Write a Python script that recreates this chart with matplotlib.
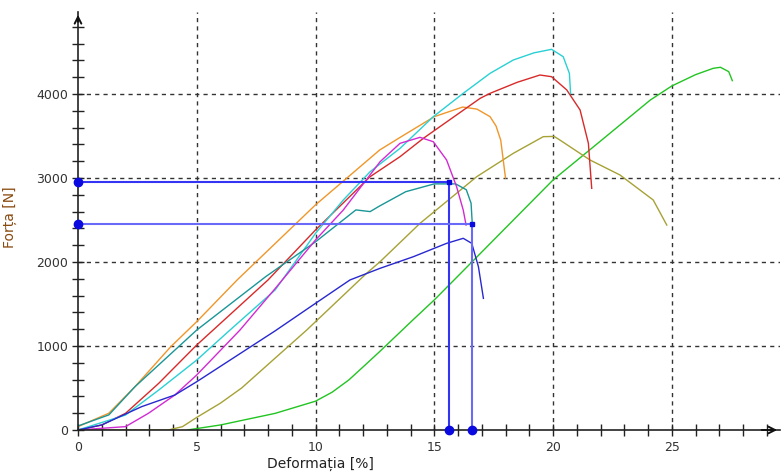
import matplotlib
matplotlib.use("Agg")
import matplotlib.pyplot as plt
from matplotlib.ticker import FixedLocator

# ---- data (strain %, force N) ----
orange_x = [0, 1.3, 2.4, 3.9, 5, 6.7, 10, 12.7, 13.6, 15, 16.2, 16.8, 17.35, 17.6, 17.8, 18.0]
orange_y = [40, 200, 516, 990, 1290, 1786, 2680, 3333, 3490, 3730, 3845, 3820, 3730, 3620, 3450, 3000]

teal_x = [0, 1.3, 2.4, 5, 7.9, 10, 11.7, 12.3, 12.7, 13.8, 15, 15.9, 16.35, 16.55, 16.6]
teal_y = [48, 180, 516, 1190, 1825, 2240, 2620, 2600, 2667, 2837, 2930, 2930, 2860, 2700, 2460]

red_x = [0, 1, 2, 3.4, 5, 8, 10, 12.3, 13.56, 14.54, 16.93, 17.35, 18.5, 19.45, 19.94, 20.58, 21.14, 21.49, 21.63]
red_y = [0, 60, 198, 556, 1012, 1786, 2381, 3016, 3254, 3472, 3948, 4008, 4140, 4226, 4206, 4048, 3810, 3413, 2877]

cyan_x = [0, 2, 3.4, 5, 6.4, 8.3, 10, 11.17, 12.3, 13.56, 14.96, 16.22, 17.35, 18.33, 19.2, 19.94, 20.43, 20.69, 20.74]
cyan_y = [0, 178, 476, 833, 1190, 1667, 2341, 2738, 3075, 3353, 3730, 4008, 4246, 4405, 4490, 4532, 4444, 4246, 4008]

magenta_x = [0, 2, 2.96, 4.08, 5, 6.82, 8.29, 10, 11.17, 12.72, 13.56, 14.4, 14.96, 15.52, 15.94, 16.22, 16.34]
magenta_y = [0, 40, 198, 417, 655, 1190, 1680, 2262, 2619, 3194, 3413, 3484, 3432, 3214, 2897, 2619, 2440]

blue_x = [0, 1, 2.68, 4.08, 5, 8.3, 10, 11.45, 12.72, 14.12, 15.52, 16.22, 16.58, 16.86, 17.07]
blue_y = [0, 60, 278, 417, 575, 1180, 1508, 1786, 1925, 2063, 2222, 2282, 2222, 1944, 1567]

olive_x = [0, 3.8, 4.4, 5, 6, 6.89, 8.29, 9.63, 12.15, 12.72, 14.4, 16.79, 18.33, 19.59, 20.05,
           20.29, 21.56, 22.82, 24.22, 24.79]
olive_y = [0, 0, 40, 150, 320, 500, 853, 1190, 1865, 2004, 2460, 3016, 3294, 3492, 3495,
           3452, 3214, 3036, 2738, 2440]

green_x = [4.6, 6, 7, 8.3, 10, 10.7, 11.4, 12.0, 12.7, 14.1, 15, 16.6, 18.75, 20, 22, 24.1, 25, 26, 26.75, 27.05, 27.4, 27.55]
green_y = [0, 60, 120, 198, 343, 450, 595, 750, 933, 1310, 1548, 2004, 2619, 2976, 3440, 3929, 4095, 4230, 4306, 4318, 4266, 4159]

marker_x = [15.64, 16.6]
marker_y = [2956, 2452]

x_major = [0, 5, 10, 15, 20, 25]
y_major = [0, 1000, 2000, 3000, 4000]

series = [
    (green_x, green_y, '#22c422'),
    (olive_x, olive_y, '#a6a235'),
    (orange_x, orange_y, '#f0962a'),
    (red_x, red_y, '#d82a2a'),
    (cyan_x, cyan_y, '#2ad0d4'),
    (teal_x, teal_y, '#1a9696'),
    (magenta_x, magenta_y, '#d22ad2'),
    (blue_x, blue_y, '#2828d0'),
]

fig = plt.figure(figsize=(7.84, 4.75), dpi=100)
ax = fig.add_axes([78/784, 45/475, 702/784, 418/475])
ax.set_xlim(0, 702/23.75)
ax.set_ylim(0, 418/0.084)

for s in ['top', 'right']:
    ax.spines[s].set_visible(False)
for s in ['left', 'bottom']:
    ax.spines[s].set_color('#222222')
    ax.spines[s].set_linewidth(1.2)

ax.xaxis.set_major_locator(FixedLocator(x_major))
ax.xaxis.set_minor_locator(FixedLocator(list(range(1, 30))))
ax.yaxis.set_major_locator(FixedLocator(y_major))
ax.yaxis.set_minor_locator(FixedLocator(list(range(200, 4900, 200))))
ax.tick_params(which='both', direction='inout', length=8, width=1, color='#222222',
               labelsize=9, labelcolor='#333333')
ax.tick_params(axis='x', pad=4)
ax.tick_params(axis='y', pad=3)

for gx in x_major[1:]:
    ax.axvline(gx, color='#333333', lw=1, ls=(0, (3, 3)), zorder=0)
for gy in y_major[1:]:
    ax.axhline(gy, color='#333333', lw=1, ls=(0, (3, 3)), zorder=0)

for xs, ys, c in series:
    ax.plot(xs, ys, color=c, lw=1.0, zorder=2)

mcols = ['#3434f4', '#6a6af8']
for mx, my, mc in zip(marker_x, marker_y, mcols):
    ax.plot([0, mx, mx], [my, my, 0], color=mc, lw=1.5, zorder=3)
    ax.plot([0, mx], [my, 0], 'o', color='#0a0ae0', ms=6, clip_on=False, zorder=4)
    ax.plot([mx], [my], 's', color='#0a0ae0', ms=3, zorder=4)

ax.annotate('', xy=(0, 1.0), xytext=(0, 0.97), xycoords='axes fraction',
            arrowprops=dict(arrowstyle='->', color='#111111', lw=1.4, mutation_scale=12))
ax.annotate('', xy=(1.0, 0), xytext=(0.97, 0), xycoords='axes fraction',
            arrowprops=dict(arrowstyle='->', color='#111111', lw=1.4, mutation_scale=12))

ax.set_xlabel('Deformația [%]', fontsize=10, color='#222222')
ax.xaxis.set_label_coords((320-78)/702, -0.065)
ax.set_ylabel('Forța [N]', fontsize=10, color='#8a4a10')
ax.yaxis.set_label_coords(-0.087, 0.51)

fig.savefig('out.png', dpi=100)
